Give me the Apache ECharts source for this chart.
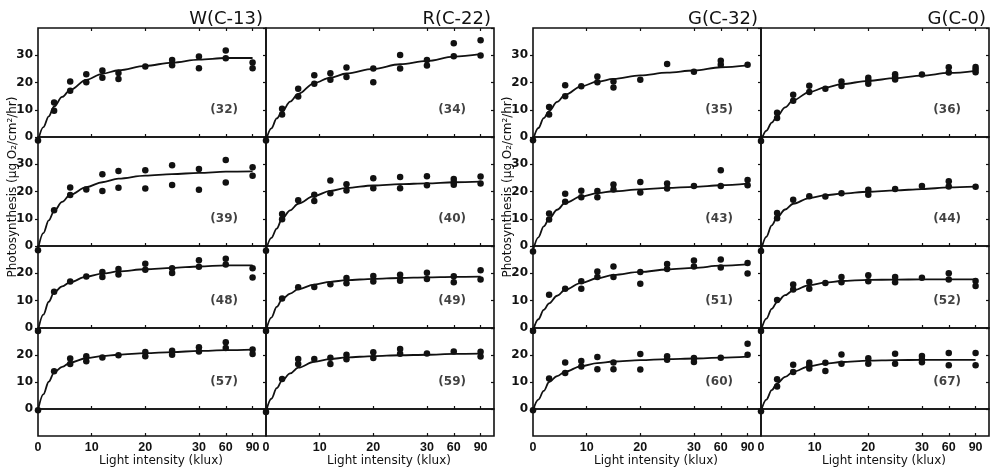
<!DOCTYPE html>
<html><head><meta charset="utf-8">
<script src="https://cdn.jsdelivr.net/npm/echarts@6/dist/echarts.min.js"></script>
<style>html,body{margin:0;padding:0;background:#fff}#c{width:992px;height:469px}</style>
</head><body><div id="c"></div>
<script>
// ---------- data (light intensity in klux, photosynthesis in µg O2/cm2/hr) ----------
const xTickKlux = [0, 10, 20, 30, 60, 90];
const fitKlux = [0, 1, 2, 3, 4.5, 6, 9, 12, 15, 20, 25, 30, 60, 90];

const titles = ['W(C-13)', 'R(C-22)', 'G(C-32)', 'G(C-0)'];
const panelIds = [
  ['(32)', '(39)', '(48)', '(57)'],
  ['(34)', '(40)', '(49)', '(59)'],
  ['(35)', '(43)', '(51)', '(60)'],
  ['(36)', '(44)', '(52)', '(67)']
];

// fitted curves
const fit32 = [-1.5, 3.6, 7.6, 11.2, 14.7, 17.3, 21.0, 23.2, 24.5, 26.1, 27.3, 28.4, 29.0, 29.0];
const fit39 = [-1.2, 4.7, 9.4, 12.8, 16.2, 18.8, 21.6, 23.4, 24.7, 25.8, 26.4, 26.8, 27.3, 27.4];
const fit48 = [-1.0, 4.9, 9.6, 13.0, 15.2, 16.8, 18.8, 19.9, 20.7, 21.5, 22.0, 22.5, 22.9, 22.9];
const fit57 = [-0.5, 5.4, 10.1, 13.5, 15.6, 17.2, 18.8, 19.6, 20.1, 20.7, 21.1, 21.5, 21.8, 22.0];
const fit34 = [-1.3, 3.2, 6.8, 9.3, 13.0, 15.8, 19.8, 21.8, 23.3, 25.0, 26.7, 27.9, 29.5, 30.4];
const fit40 = [-1.5, 3.0, 6.4, 10.0, 13.1, 15.5, 18.4, 20.2, 21.3, 22.2, 22.7, 23.0, 23.4, 23.6];
const fit49 = [-1.0, 3.8, 7.7, 10.5, 12.6, 14.2, 15.9, 16.9, 17.5, 18.0, 18.3, 18.5, 18.7, 18.8];
const fit59 = [-1.0, 3.8, 7.7, 10.5, 13.2, 15.3, 17.5, 18.5, 19.1, 19.6, 19.9, 20.1, 20.4, 20.5];
const fit35 = [-1.2, 3.3, 6.9, 9.5, 12.9, 15.5, 18.6, 20.3, 21.3, 22.6, 23.6, 24.4, 25.6, 26.3];
const fit43 = [-1.7, 3.2, 7.2, 10.0, 13.3, 15.8, 18.2, 19.4, 20.1, 20.8, 21.3, 21.7, 22.3, 22.9];
const fit51 = [-1.0, 3.2, 6.6, 9.0, 11.8, 14.0, 16.5, 18.2, 19.4, 20.5, 21.4, 22.0, 22.8, 23.3];
const fit60 = [-0.5, 3.5, 6.7, 10.0, 12.2, 13.8, 15.9, 17.0, 17.6, 18.1, 18.5, 18.7, 19.0, 19.4];
const fit36 = [-1.5, 2.3, 5.3, 7.5, 10.9, 13.5, 16.5, 18.2, 19.4, 20.6, 21.6, 22.5, 23.5, 24.3];
const fit44 = [-1.7, 3.4, 7.6, 10.5, 13.4, 15.5, 17.6, 18.6, 19.2, 19.9, 20.4, 20.9, 21.5, 21.8];
const fit52 = [-1.0, 3.4, 7.0, 9.5, 12.0, 13.8, 15.7, 16.6, 17.2, 17.6, 17.7, 17.8, 17.8, 17.8];
const fit67 = [-0.8, 3.5, 7.0, 9.5, 11.9, 13.8, 15.8, 16.8, 17.4, 17.9, 18.1, 18.2, 18.2, 18.2];

// measured points [klux, value]
const pts32 = [[0,-1.3],[3,12.7],[3,9.6],[6,20.4],[6,17.0],[9,23.0],[9,20.1],[12,24.4],[12,21.7],[15,23.5],[15,21.3],[20,25.9],[25,28.3],[25,26.3],[30,29.5],[30,25.2],[60,31.7],[60,28.9],[90,27.3],[90,25.2]];
const pts39 = [[0,-1.6],[3,13.1],[6,21.5],[6,18.7],[9,20.7],[12,26.3],[12,20.2],[15,27.5],[15,21.4],[20,27.8],[20,21.1],[25,29.6],[25,22.4],[30,28.3],[30,20.6],[60,31.6],[60,23.3],[90,28.9],[90,25.8]];
const pts48 = [[0,-1.1],[3,13.3],[6,17.0],[9,18.8],[12,20.5],[12,18.7],[15,21.6],[15,19.6],[20,23.5],[20,21.3],[25,21.9],[25,20.1],[30,24.8],[30,22.4],[60,25.3],[60,23.2],[90,21.9],[90,18.5]];
const pts57 = [[0,-0.5],[3,14.0],[6,18.7],[6,16.7],[9,19.5],[9,17.7],[12,19.1],[15,19.9],[20,21.1],[20,19.5],[25,21.6],[25,20.1],[30,22.9],[30,21.3],[60,24.7],[60,22.6],[90,22.0],[90,20.4]];
const pts34 = [[0,-1.3],[3,10.4],[3,8.3],[6,17.7],[6,14.9],[9,22.7],[9,19.5],[12,23.4],[12,21.0],[15,25.5],[15,22.0],[20,25.1],[20,20.1],[25,30.1],[25,25.1],[30,28.3],[30,26.2],[60,34.4],[60,29.6],[90,35.5],[90,29.9]];
const pts40 = [[0,-1.7],[3,11.7],[3,9.8],[6,16.8],[9,18.8],[9,16.5],[12,24.0],[12,19.4],[15,22.7],[15,20.4],[20,24.9],[20,21.2],[25,25.3],[25,21.2],[30,25.6],[30,22.3],[60,24.6],[60,23.4],[60,22.5],[90,25.5],[90,22.9]];
const pts49 = [[0,-1.1],[3,10.8],[6,14.9],[9,15.0],[12,16.0],[15,18.3],[15,16.4],[20,19.0],[20,17.0],[25,19.5],[25,17.3],[30,20.2],[30,17.9],[60,18.9],[60,16.7],[90,21.1],[90,17.7]];
const pts59 = [[0,-1.1],[3,11.1],[6,18.5],[6,16.7],[9,18.5],[12,19.0],[12,16.7],[15,20.1],[15,18.4],[20,21.0],[20,18.9],[25,22.2],[25,20.5],[30,20.6],[60,21.3],[90,21.2],[90,19.4]];
const pts35 = [[0,-1.2],[3,11.0],[3,8.3],[6,19.0],[6,15.0],[9,18.6],[12,22.2],[12,20.1],[15,20.4],[15,18.2],[20,21.0],[25,26.8],[30,23.9],[60,28.0],[60,26.5],[90,26.5]];
const pts43 = [[0,-2.0],[3,11.9],[3,9.7],[6,19.2],[6,16.2],[9,20.3],[9,17.9],[12,20.2],[12,17.9],[15,22.6],[15,20.7],[20,23.5],[20,19.6],[25,22.9],[25,21.1],[30,22.0],[60,27.8],[60,22.0],[90,24.2],[90,22.3]];
const pts51 = [[0,-1.1],[3,12.2],[6,14.4],[9,17.1],[9,14.4],[12,20.7],[12,18.7],[15,22.5],[15,18.7],[20,20.5],[20,16.2],[25,23.4],[25,21.6],[30,24.7],[30,22.5],[60,25.1],[60,22.1],[90,23.8],[90,19.9]];
const pts60 = [[0,-0.5],[3,11.3],[6,17.2],[6,13.3],[9,17.8],[9,15.7],[12,19.3],[12,14.7],[15,17.2],[15,14.7],[20,20.4],[20,14.6],[25,19.5],[25,18.2],[30,18.9],[30,17.4],[60,19.0],[90,24.2],[90,20.1]];
const pts36 = [[0,-1.5],[3,8.9],[3,7.0],[6,15.5],[6,13.3],[9,18.8],[9,16.5],[12,17.7],[15,20.4],[15,18.7],[20,21.7],[20,20.7],[20,19.5],[25,23.0],[25,22.1],[25,21.1],[30,22.9],[60,25.6],[60,23.7],[90,25.7],[90,24.8],[90,23.8]];
const pts44 = [[0,-1.8],[3,12.1],[3,10.2],[6,17.0],[9,18.3],[12,18.2],[15,19.4],[20,20.6],[20,18.8],[25,20.9],[30,22.0],[60,23.8],[60,21.8],[90,21.7]];
const pts52 = [[0,-1.1],[3,10.2],[6,15.9],[6,14.1],[9,16.8],[9,14.4],[12,16.5],[15,18.7],[15,16.7],[20,19.3],[20,17.1],[25,18.7],[25,16.7],[30,18.4],[60,20.0],[60,17.7],[90,17.2],[90,15.4]];
const pts67 = [[0,-0.8],[3,11.0],[3,8.3],[6,16.4],[6,13.7],[9,17.1],[9,16.1],[9,15.0],[12,17.1],[12,14.1],[15,20.2],[15,16.8],[20,18.8],[20,16.8],[25,20.5],[25,16.8],[30,19.6],[30,18.4],[30,17.3],[60,20.7],[60,16.2],[90,20.7],[90,16.2]];

const ptsByCol = [[pts32, pts39, pts48, pts57],[pts34, pts40, pts49, pts59],[pts35, pts43, pts51, pts60],[pts36, pts44, pts52, pts67]];
const fitByCol = [[fit32, fit39, fit48, fit57],[fit34, fit40, fit49, fit59],[fit35, fit43, fit51, fit60],[fit36, fit44, fit52, fit67]];

// ---------- layout / style ----------
const INK = '#111';
const FONT = 'DejaVu Sans';
const TICKFONT = 'Liberation Sans';
const colLeft = [38, 266, 533, 761];
const colW = 228;
const rowTop = [28, 137, 246, 328, 409];
const rowH = [109, 109, 82, 81, 27];
const rowMin = [0, 0, 0, 0, -10];
const rowMax = [40, 40, 30, 30, 0];
const X_MAX = 42.5;
const idPos = [34.7, 10];
const LABEL_MARGIN = 5;

// broken light axis: linear to 30 klux, then 60 and 90 klux each one 5-klux step further
const pos = k => (k <= 30 ? k : 30 + (k - 30) / 6);
const tickPos = xTickKlux.filter(k => k > 0).map(pos);
const labelOf = v => { const i = xTickKlux.findIndex(k => Math.abs(pos(k) - v) < 1e-4); return i >= 0 ? String(xTickKlux[i]) : ''; };

const grids = [], xAxes = [], yAxes = [], series = [];
const bottomAxisIdx = [];
for (let c = 0; c < 4; c++) {
  for (let r = 0; r < 5; r++) {
    const gi = grids.length;
    grids.push({ left: colLeft[c], top: rowTop[r], width: colW, height: rowH[r], show: true,
      borderColor: INK, borderWidth: 1.6, backgroundColor: 'transparent' });
    const xi = xAxes.length;
    if (r === 4) bottomAxisIdx.push(xi);
    xAxes.push({ gridIndex: gi, type: 'value', min: 0, max: X_MAX, position: 'bottom',
      axisLine: { show: false, onZero: false }, splitLine: { show: false },
      axisTick: { show: true, inside: true, length: 3, customValues: tickPos, lineStyle: { color: INK, width: 1.2 } },
      axisLabel: { show: r === 4, customValues: tickPos, formatter: labelOf, margin: LABEL_MARGIN, hideOverlap: false,
        fontSize: 12.5, fontWeight: 'bold', color: INK, fontFamily: TICKFONT } });
    if (r === 0) {
      xAxes.push({ gridIndex: gi, type: 'value', min: 0, max: X_MAX, position: 'top',
        axisLine: { show: false, onZero: false }, splitLine: { show: false },
        axisTick: { show: true, inside: true, length: 3, customValues: tickPos, lineStyle: { color: INK, width: 1.2 } },
        axisLabel: { show: false } });
    }
    const yi = yAxes.length;
    const firstCol = c % 2 === 0;
    yAxes.push({ gridIndex: gi, type: 'value', show: r < 4, min: rowMin[r], max: rowMax[r], interval: 10, position: 'left',
      axisLine: { show: false, onZero: false }, splitLine: { show: false },
      axisTick: { show: firstCol, length: 3, lineStyle: { color: INK, width: 1.2 } },
      axisLabel: { show: firstCol, showMaxLabel: false, margin: 5, fontSize: 12, fontWeight: 'bold', color: INK, fontFamily: FONT } });
    if (r < 4) {
      yAxes.push({ gridIndex: gi, type: 'value', min: rowMin[r], max: rowMax[r], interval: 10, position: 'right',
        axisLine: { show: false, onZero: false }, splitLine: { show: false },
        axisTick: { show: true, inside: true, length: 3, lineStyle: { color: INK, width: 1.2 } },
        axisLabel: { show: false } });
      const pts = ptsByCol[c][r], fit = fitByCol[c][r];
      series.push({ type: 'line', xAxisIndex: xi, yAxisIndex: yi, clip: false, silent: true,
        data: fitKlux.map((k, i) => [pos(k), fit[i]]), smooth: 0.35, smoothMonotone: 'x',
        showSymbol: false, symbol: 'none', lineStyle: { color: INK, width: 1.8 }, z: 2 });
      series.push({ type: 'scatter', xAxisIndex: xi, yAxisIndex: yi, clip: false, silent: true,
        data: pts.map(p => [pos(p[0]), p[1]]), symbolSize: 6.5, itemStyle: { color: INK, opacity: 1 }, z: 3 });
      series.push({ type: 'scatter', xAxisIndex: xi, yAxisIndex: yi, silent: true,
        data: [idPos], symbolSize: 0,
        label: { show: true, position: 'inside', formatter: panelIds[c][r], fontSize: 12, fontWeight: 'bold', color: INK, fontFamily: FONT } });
    }
  }
}

const graphic = [];
titles.forEach((t, c) => {
  graphic.push({ type: 'text', x: colLeft[c] + colW - 3, y: 19, silent: true,
    style: { text: t, fill: INK, fontSize: 18, fontFamily: FONT, align: 'right', verticalAlign: 'middle' } });
  graphic.push({ type: 'text', x: colLeft[c] + colW / 2 + 9, y: 461, silent: true,
    style: { text: 'Light intensity (klux)', fill: INK, fontSize: 12, fontFamily: FONT, align: 'center', verticalAlign: 'middle' } });
});
[colLeft[0] - 25, colLeft[2] - 25].forEach(x => {
  graphic.push({ type: 'text', x: x, y: 187, rotation: Math.PI / 2, silent: true,
    style: { text: 'Photosynthesis (μg O₂/cm²/hr)', fill: INK, fontSize: 12, fontFamily: FONT, align: 'center', verticalAlign: 'middle' } });
});

const chart = echarts.init(document.getElementById('c'), null, { renderer: 'canvas' });
chart.setOption({ animation: false, backgroundColor: '#fff', grid: grids, xAxis: xAxes, yAxis: yAxes, series: series, graphic: graphic });

// the "0" tick label at the start of every light axis, placed through each axis's own scale
const zeroLabels = bottomAxisIdx.map(xi => ({
  type: 'text', silent: true,
  x: chart.convertToPixel({ xAxisIndex: xi }, pos(xTickKlux[0])),
  y: rowTop[4] + rowH[4] + LABEL_MARGIN,
  style: { text: String(xTickKlux[0]), fill: INK, fontSize: 12.5, fontWeight: 'bold', fontFamily: TICKFONT, align: 'center', verticalAlign: 'top' }
}));
chart.setOption({ graphic: graphic.concat(zeroLabels) });
</script></body></html>
